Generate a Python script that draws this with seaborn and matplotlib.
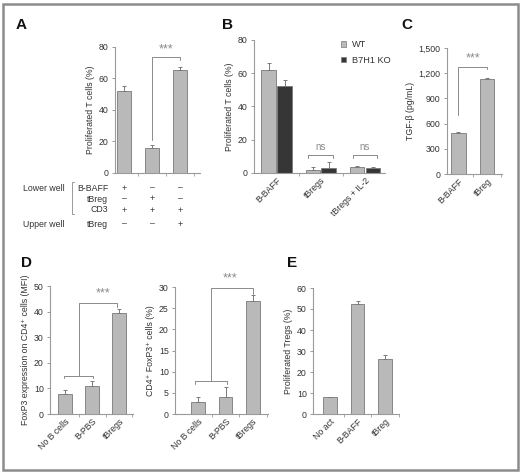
import numpy as np
import pandas as pd
import matplotlib
matplotlib.use("Agg")
import matplotlib.pyplot as plt
import matplotlib.transforms as mtrans
from matplotlib.patches import Rectangle, Patch
from matplotlib.ticker import FuncFormatter
import seaborn as sns

sns.set_style("white")
plt.rcParams['font.family'] = ['Liberation Sans', 'DejaVu Sans']

# ---------------- data ----------------
a_conditions = ['B-BAFF lower', 'tBreg lower', 'tBreg upper']
a_vals = [52, 16, 65.5]
a_err = [3, 1.5, 1.5]
a_lower_rows = ['B-BAFF', 'tBreg', 'CD3']
a_lower_signs = [['+', '–', '–'], ['–', '+', '–'], ['+', '+', '+']]
a_upper_row = 'tBreg'
a_upper_signs = ['–', '–', '+']

b_groups = ['B-BAFF', 'tBregs', 'tBregs + IL-2']
b_genotypes = ['WT', 'B7H1 KO']
b_wt = [62, 2, 3.5]
b_wt_err = [4, 1.5, 0.5]
b_ko = [52.5, 3, 3]
b_ko_err = [3.5, 3.5, 0.5]

c_labels = ['B-BAFF', 'tBreg']
c_vals = [490, 1135]
c_err = [10, 8]

d_labels = ['No B cells', 'B-PBS', 'tBregs']
d1_vals = [8, 11, 39.5]
d1_err = [1.5, 2, 1.5]
d2_vals = [2.8, 4.1, 26.8]
d2_err = [1.2, 2.3, 1.3]

e_labels = ['No act', 'B-BAFF', 'tBreg']
e_vals = [8, 52.5, 26.3]
e_err = [0.3, 1.5, 2]

# ---------------- style ----------------
W, H = 520, 473
BAR = '#b9b9b9'
DARK = '#363636'
EDGE = '#7a7a7a'
AX = '#9a9a9a'
TXT = '#333333'
STAR = '#8a8a8a'
FS = 6.3

fig = plt.figure(figsize=(W / 100, H / 100), dpi=100)


def axes_px(x0, x1, y0, y1):
    return fig.add_axes([x0 / W, 1 - y1 / H, (x1 - x0) / W, (y1 - y0) / H])


def style(ax, ylim, yticks, xlim, ylabel, fmt=None):
    ax.set_xlim(*xlim)
    ax.set_ylim(*ylim)
    ax.set_yticks(yticks)
    if fmt:
        ax.yaxis.set_major_formatter(FuncFormatter(fmt))
    for s in ['top', 'right']:
        ax.spines[s].set_visible(False)
    for s in ['left', 'bottom']:
        ax.spines[s].set_color(AX)
        ax.spines[s].set_linewidth(0.8)
    ax.tick_params(axis='y', length=2.5, width=0.7, color=AX, labelsize=FS,
                   labelcolor=TXT, pad=2, left=True)
    ax.tick_params(axis='x', length=0, labelsize=FS, labelcolor=TXT, pad=2)
    ax.set_xticks([0.5 + i for i in range(int(xlim[1] - 0.5) + 1) if 0.5 + i < xlim[1]], minor=True)
    ax.tick_params(axis='x', which='minor', length=2, width=0.6, color=AX, bottom=True)
    ax.set_ylabel(ylabel, fontsize=FS, color=TXT, labelpad=3)
    ax.set_xlabel('')
    ax.set_facecolor('none')


def rot_labels(ax, labels):
    ax.set_xticks(range(len(labels)))
    ax.set_xticklabels(labels, rotation=45, ha='right', rotation_mode='anchor')


def errbars(ax, xs, vals, errs):
    ax.errorbar(xs, vals, yerr=[np.zeros(len(vals)), errs], fmt='none',
                ecolor=EDGE, elinewidth=0.7, capsize=1.5, capthick=0.7, zorder=3)


def simple_bars(ax, labels, vals):
    df = pd.DataFrame({'cat': labels, 'val': vals})
    sns.barplot(data=df, x='cat', y='val', color=BAR, width=0.5, ax=ax,
                edgecolor=EDGE, linewidth=0.6, errorbar=None, saturation=1)


def letter(x, y, s):
    fig.text(x / W, 1 - y / H, s, fontsize=11, fontweight='bold', color='#111111',
             ha='left', va='center')


def line(ax, xs, ys):
    ax.plot(xs, ys, color=STAR, lw=0.7, clip_on=False, zorder=4)


def stars(ax, x, y, s='***', fs=9):
    ax.text(x, y, s, ha='center', va='center', fontsize=fs, color=STAR)

# ---------------- panel A ----------------
axA = axes_px(115, 200, 47, 173)
simple_bars(axA, a_conditions, a_vals)
errbars(axA, range(3), a_vals, a_err)
style(axA, (0, 80), [0, 20, 40, 60, 80], (-0.32, 2.71), 'Proliferated T cells (%)')
axA.set_xticks([])
line(axA, [1, 1, 2, 2], [21, 73.6, 73.6, 71.5])
stars(axA, 1.5, 78.5)
letter(16, 25, 'A')

tr = mtrans.blended_transform_factory(axA.transData, fig.transFigure)
row_y = [188, 199, 210]
for lab, signs, yy in zip(a_lower_rows, a_lower_signs, row_y):
    fig.text(108 / W, 1 - yy / H, lab, fontsize=FS, color=TXT, ha='right', va='center')
    for i, sg in enumerate(signs):
        fig.text(i, 1 - yy / H, sg, transform=tr, fontsize=FS, color=TXT, ha='center', va='center')
fig.text(23 / W, 1 - 188 / H, 'Lower well', fontsize=FS, color=TXT, ha='left', va='center')
fig.text(23 / W, 1 - 224 / H, 'Upper well', fontsize=FS, color=TXT, ha='left', va='center')
fig.text(108 / W, 1 - 224 / H, a_upper_row, fontsize=FS, color=TXT, ha='right', va='center')
for i, sg in enumerate(a_upper_signs):
    fig.text(i, 1 - 224 / H, sg, transform=tr, fontsize=FS, color=TXT, ha='center', va='center')
fig.add_artist(plt.Line2D([74 / W, 72 / W, 72 / W, 74 / W],
                          [1 - 182 / H, 1 - 182 / H, 1 - 214 / H, 1 - 214 / H],
                          color=AX, lw=0.7))

# ---------------- panel B ----------------
axB = axes_px(254, 385, 40, 173)
dfB = pd.DataFrame({'group': b_groups * 2,
                    'geno': [b_genotypes[0]] * 3 + [b_genotypes[1]] * 3,
                    'val': b_wt + b_ko})
sns.barplot(data=dfB, x='group', y='val', hue='geno', palette=[BAR, DARK],
            width=0.72, gap=0.08, ax=axB, edgecolor=EDGE, linewidth=0.6,
            errorbar=None, saturation=1)
for cont, errs in zip(axB.containers, [b_wt_err, b_ko_err]):
    xs = [p.get_x() + p.get_width() / 2 for p in cont]
    vs = [p.get_height() for p in cont]
    errbars(axB, xs, vs, errs)
style(axB, (0, 80), [0, 20, 40, 60, 80], (-0.51, 2.45), 'Proliferated T cells (%)')
rot_labels(axB, b_groups)
for g in [1, 2]:
    line(axB, [g - 0.28, g - 0.28, g + 0.28, g + 0.28], [9.2, 10.6, 10.6, 9.2])
    stars(axB, g, 15.5, 'ns', fs=7)
handles = [Patch(facecolor=BAR, edgecolor=EDGE, linewidth=0.5),
           Patch(facecolor=DARK, edgecolor=EDGE, linewidth=0.5)]
axB.legend(handles, b_genotypes, loc='upper left', bbox_to_anchor=(0.6, 1.06),
           frameon=False, fontsize=FS + 0.3, handlelength=0.6, handleheight=0.6,
           handletextpad=0.6, labelspacing=0.7, labelcolor=TXT)
letter(222, 25, 'B')

# ---------------- panel C ----------------
axC = axes_px(447, 502, 48, 174)
simple_bars(axC, c_labels, c_vals)
errbars(axC, range(2), c_vals, c_err)
style(axC, (0, 1500), [0, 300, 600, 900, 1200, 1500], (-0.40, 1.53),
      'TGF-β (pg/mL)', fmt=lambda v, p: f'{int(v):,}')
rot_labels(axC, c_labels)
line(axC, [0, 0, 1, 1], [700, 1274, 1274, 1250])
stars(axC, 0.5, 1380)
letter(401, 25, 'C')

# ---------------- panel D ----------------
axD1 = axes_px(50, 133, 286, 414)
simple_bars(axD1, d_labels, d1_vals)
errbars(axD1, range(3), d1_vals, d1_err)
style(axD1, (0, 50), [0, 10, 20, 30, 40, 50], (-0.56, 2.52),
      'FoxP3 expression on CD4⁺ cells (MFI)')
rot_labels(axD1, d_labels)
line(axD1, [-0.05, -0.05, 1.03, 1.03], [14, 15, 15, 14])
line(axD1, [0.5, 0.5, 1.93, 1.93], [15, 43.5, 43.5, 41.8])
stars(axD1, 1.4, 47)
letter(21, 263, 'D')

axD2 = axes_px(175, 268, 287, 414)
simple_bars(axD2, d_labels, d2_vals)
errbars(axD2, range(3), d2_vals, d2_err)
style(axD2, (0, 30), [0, 5, 10, 15, 20, 25, 30], (-0.85, 2.55),
      'CD4⁺ FoxP3⁺ cells (%)')
rot_labels(axD2, d_labels)
line(axD2, [-0.13, -0.13, 1.05, 1.05], [7.2, 7.8, 7.8, 7.2])
line(axD2, [0.46, 0.46, 2.0, 2.0], [7.8, 29.7, 29.7, 28.3])
stars(axD2, 1.16, 32)

# ---------------- panel E ----------------
axE = axes_px(313, 399, 288, 414)
simple_bars(axE, e_labels, e_vals)
errbars(axE, range(3), e_vals, e_err)
style(axE, (0, 60), [0, 10, 20, 30, 40, 50, 60], (-0.62, 2.51),
      'Proliferated Tregs (%)')
rot_labels(axE, e_labels)
letter(287, 263, 'E')

# ---------------- outer frame ----------------
fig.add_artist(Rectangle((2.5 / W, 1 - 470 / H), 515 / W, 466 / H,
                         transform=fig.transFigure, fill=False,
                         edgecolor='#8c8c8c', linewidth=1.8))

fig.savefig('out.png', dpi=100)
